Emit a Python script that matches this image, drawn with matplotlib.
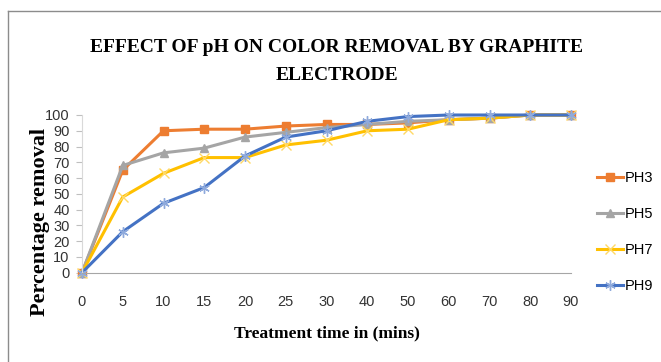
import numpy as np
import matplotlib
matplotlib.use("Agg")
import matplotlib.pyplot as plt
from matplotlib import font_manager
from matplotlib.lines import Line2D

# treatment time (min) and % colour removal for each pH
time_labels = ["0", "5", "10", "15", "20", "25", "30", "40", "50", "60", "70", "80", "90"]
ph3 = [0, 65, 90, 91, 91, 93, 94, 94, 95, 97, 98, 100, 100]
ph5 = [0, 68, 76, 79, 86, 89, 92, 94, 96, 97, 98, 100, 100]
ph7 = [0, 48, 63, 73, 73, 81, 84, 90, 91, 97, 98, 100, 100]
ph9 = [0, 26, 44, 54, 74, 86, 90, 96, 99, 100, 100, 100, 100]
series_names = ["PH3", "PH5", "PH7", "PH9"]
yticks = [0, 10, 20, 30, 40, 50, 60, 70, 80, 90, 100]

installed = {f.name for f in font_manager.fontManager.ttflist}
if "Liberation Sans Narrow" in installed:
    tick_font, tick_size = "Liberation Sans Narrow", 12
else:
    tick_font, tick_size = "Liberation Sans", 10.5
serif = "Liberation Serif"

W, H = 661, 362
fig = plt.figure(figsize=(W / 100, H / 100), dpi=100)

# page frame (only left/top edges visible in the crop)
fig.add_artist(Line2D([8 / W, 8 / W], [0, 1 - 11 / H], color="#8c8c8c", lw=1))
fig.add_artist(Line2D([8 / W, 1], [1 - 11 / H, 1 - 11 / H], color="#8c8c8c", lw=1))

ax = fig.add_axes([82 / W, 1 - 272.7 / H, 489 / W, 157.7 / H])
x = np.arange(len(time_labels))

styles = [
    dict(color="#ED7D31", marker="s", mfc="#ED7D31", mec="#ED7D31", ms=6),
    dict(color="#A5A5A5", marker="^", mfc="#A5A5A5", mec="#A5A5A5", ms=6),
    dict(color="#FFC000", marker="x", mfc="#FFD966", mec="#FFD966", ms=6.5, mew=1),
    dict(color="#4472C4", marker=(6, 2, 0), mfc="#8FAADC", mec="#8FAADC", ms=7.5, mew=1),
]
for vals, name, st in zip([ph3, ph5, ph7, ph9], series_names, styles):
    ax.plot(x, vals, lw=2.2, label=name, clip_on=False, **st)

ax.set_xlim(0, len(time_labels) - 1)
ax.set_ylim(0, 100)
ax.set_xticks(x)
ax.set_xticklabels(time_labels)
ax.set_yticks(yticks)
for lab in ax.get_xticklabels() + ax.get_yticklabels():
    lab.set_fontfamily(tick_font)
    lab.set_fontsize(tick_size)
    lab.set_color("#333333")
ax.tick_params(axis="x", length=0, pad=16)
ax.tick_params(axis="y", length=4, width=0.8, color="#BFBFBF", pad=5)
for s in ["top", "right"]:
    ax.spines[s].set_visible(False)
ax.spines["bottom"].set_color("#A6A6A6")
ax.spines["left"].set_color("#D9D9D9")

fig.text(337 / W, 1 - 47 / H, "EFFECT OF pH ON COLOR REMOVAL BY GRAPHITE",
         ha="center", va="center", family=serif, fontweight="bold", fontsize=14)
fig.text(337 / W, 1 - 75 / H, "ELECTRODE",
         ha="center", va="center", family=serif, fontweight="bold", fontsize=14)
fig.text(40 / W, 1 - 222 / H, "Percentage removal", rotation=90,
         ha="center", va="center", family=serif, fontweight="bold", fontsize=16)
fig.text(327 / W, 1 - 333 / H, "Treatment time in (mins)",
         ha="center", va="center", family=serif, fontweight="bold", fontsize=12.5)

fig.legend(loc="upper left", bbox_to_anchor=(597 / W, 1 - 171 / H),
           frameon=False, prop={"family": tick_font, "size": tick_size},
           handlelength=1.8, handletextpad=0.1, labelspacing=1.5,
           borderpad=0, borderaxespad=0)

fig.savefig("out.png", dpi=100)
